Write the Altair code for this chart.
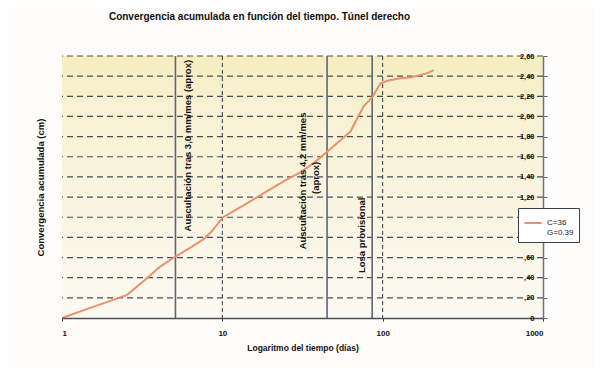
import altair as alt
import pandas as pd

# ---- data ----
days = [1, 1.5, 2.0, 2.55, 3.3, 4.1, 5.1, 6.2, 7.6, 8.6, 10.1, 14, 19, 25, 31,
        38, 45, 55, 63, 76, 86, 97, 110, 129, 150, 170, 190, 208]
conv = [0.00, 0.10, 0.17, 0.23, 0.38, 0.51, 0.61, 0.69, 0.78, 0.86, 1.00, 1.13,
        1.26, 1.37, 1.45, 1.55, 1.65, 1.77, 1.85, 2.10, 2.19, 2.33, 2.36, 2.38,
        2.39, 2.41, 2.43, 2.46]
series_name = "C=36|G=0.39"

event_days = [5.1, 45, 86]

note_text = ["Auscultación tras 3,0 mm/mes (aprox)",
             "Auscultación tras 4,2 mm/mes",
             "(aprox)",
             "Losa provisional"]
note_x = [6.1, 31.9, 38.6, 74.4]
note_y = [1.71, 1.36, 1.39, 0.82]

x_ticks = [1, 10, 100, 1000]
y_ticks = [round(0.2 * i, 2) for i in range(14)]

W, H = 481, 262
FONT = "Liberation Sans"

curve = pd.DataFrame({"days": days, "conv": conv, "serie": series_name})
events = pd.DataFrame({"days": event_days})
notes = pd.DataFrame({"txt": note_text, "x": note_x, "y": note_y})
bg = pd.DataFrame({"x": [1], "x2": [1000], "y": [0], "y2": [2.6]})
ygrid = pd.DataFrame({"v": y_ticks[1:]})
xgrid = pd.DataFrame({"v": x_ticks[1:-1]})

xscale = alt.Scale(type="log", domain=[1, 1000], nice=False)
yscale = alt.Scale(domain=[0, 2.6], nice=False, zero=True)

ylab = ("datum.value == 0 ? '0' : (datum.value < 1 ? "
        "slice(replace(format(datum.value, '.2f'), '.', ','), 1) : "
        "replace(format(datum.value, '.2f'), '.', ','))")

back = alt.Chart(bg).mark_rect(
    color=alt.Gradient(
        gradient="linear", x1=0, x2=0, y1=0, y2=1,
        stops=[alt.GradientStop(offset=0, color="#f6edbf"),
               alt.GradientStop(offset=0.18, color="#f8f1d2"),
               alt.GradientStop(offset=1, color="#fcf9f2")]),
).encode(
    x=alt.X("x:Q", scale=xscale,
            axis=alt.Axis(values=x_ticks, tickCount=4, format="d",
                          title="Logaritmo del tiempo (días)", grid=False,
                          tickColor="#333a42", tickDash=[3, 2], tickSize=5,
                          domainColor="#4a525c", domainWidth=1.5, zindex=1,
                          labelFont=FONT, labelFontWeight="bold", labelFontSize=8,
                          labelColor="#111", labelPadding=6,
                          titleFont=FONT, titleFontWeight="bold", titleFontSize=8.5,
                          titleColor="#111", titlePadding=6)),
    x2="x2:Q",
    y=alt.Y("y:Q", scale=yscale,
            axis=alt.Axis(orient="right", values=y_ticks, tickCount=len(y_ticks),
                          labelExpr=ylab, grid=False,
                          tickColor="#5a6470", tickSize=4, zindex=1,
                          domainColor="#6a7482", domainWidth=1.5,
                          labelAlign="right", labelPadding=-13, labelOverlap=False,
                          labelFont=FONT, labelFontWeight="bold", labelFontSize=7.5,
                          labelColor="#111",
                          title="Convergencia acumulada (cm)", titleAngle=270,
                          titleX=-503, titleY=H / 2, titleAlign="center",
                          titleBaseline="middle",
                          titleFont=FONT, titleFontWeight="bold", titleFontSize=9.5,
                          titleColor="#111")),
    y2="y2:Q",
)

hgrid = alt.Chart(ygrid).mark_rule(color="#46505a", strokeWidth=1.2,
                                   strokeDash=[6, 4]).encode(
    y=alt.Y("v:Q", scale=yscale),
)
vgrid = alt.Chart(xgrid).mark_rule(color="#333a42", strokeWidth=1,
                                   strokeDash=[4, 3]).encode(
    x=alt.X("v:Q", scale=xscale),
)

rules = alt.Chart(events).mark_rule(color="#5c6675", strokeWidth=1.6).encode(
    x=alt.X("days:Q", scale=xscale),
)

line = alt.Chart(curve).mark_line(strokeWidth=2, color="#e8916c").encode(
    x=alt.X("days:Q", scale=xscale),
    y=alt.Y("conv:Q", scale=yscale),
    color=alt.Color("serie:N", scale=alt.Scale(range=["#e8916c"]),
                    legend=alt.Legend(title=None, orient="none", legendX=456, legendY=152,
                                      labelExpr="split(datum.label, '|')",
                                      symbolType="stroke", symbolStrokeWidth=2,
                                      symbolSize=300,
                                      labelFont=FONT, labelFontSize=8, labelColor="#222",
                                      fillColor="white", strokeColor="#3a4048",
                                      padding=5, zindex=2)),
)

texts = alt.Chart(notes).mark_text(angle=270, font=FONT, fontWeight="bold", fontSize=9.5,
                                   color="#111", align="center", baseline="middle").encode(
    x=alt.X("x:Q", scale=xscale),
    y=alt.Y("y:Q", scale=yscale),
    text="txt:N",
)

chart = alt.layer(back, hgrid, vgrid, rules, line, texts).properties(
    width=W, height=H,
    autosize=alt.AutoSizeParams(type="none"),
    padding={"left": 54, "top": 48, "right": 52, "bottom": 51},
    background="#fefcfa",
    title=alt.TitleParams("Convergencia acumulada en función del tiempo. Túnel derecho",
                          font=FONT, fontSize=10, fontWeight="bold", color="#111",
                          anchor="middle", dx=-43, offset=30),
).configure_view(stroke="#9aa2ae", strokeWidth=1)

chart.save("out.html", embed_options={"renderer": "svg", "actions": False})
